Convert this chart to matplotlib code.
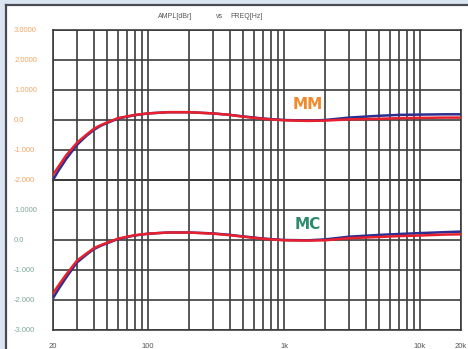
import matplotlib
matplotlib.use("Agg")
import matplotlib.pyplot as plt
from matplotlib.patches import Rectangle

plt.rcParams['font.family'] = ['Liberation Sans', 'DejaVu Sans']

# Frequency response readings (Hz, dBr)
freq = [20, 22, 25, 30, 35, 40, 45, 50, 60, 70, 80, 100, 140, 200, 300, 400, 500, 700,
        1000, 1500, 2000, 3000, 5000, 7000, 10000, 15000, 20000]

mm_left = [-2.00, -1.68, -1.30, -0.83, -0.54, -0.33, -0.19, -0.10, 0.05, 0.11, 0.16, 0.22,
           0.26, 0.26, 0.22, 0.17, 0.12, 0.05, 0.00, -0.02, 0.00, 0.08, 0.14, 0.17, 0.18,
           0.19, 0.19]
mm_right = [-1.83, -1.55, -1.18, -0.76, -0.50, -0.29, -0.17, -0.08, 0.06, 0.12, 0.17, 0.22,
            0.26, 0.26, 0.22, 0.17, 0.11, 0.04, -0.01, -0.03, -0.02, 0.02, 0.04, 0.06, 0.07,
            0.08, 0.08]
mc_left = [-1.94, -1.63, -1.25, -0.75, -0.50, -0.30, -0.19, -0.11, 0.03, 0.10, 0.15, 0.21,
           0.25, 0.25, 0.22, 0.17, 0.12, 0.05, 0.00, -0.01, 0.02, 0.11, 0.17, 0.20, 0.23,
           0.26, 0.28]
mc_right = [-1.78, -1.50, -1.15, -0.69, -0.46, -0.27, -0.17, -0.09, 0.04, 0.11, 0.16, 0.21,
            0.25, 0.25, 0.21, 0.16, 0.11, 0.04, -0.01, -0.02, -0.01, 0.06, 0.10, 0.13, 0.15,
            0.18, 0.19]

grid_freqs = [20, 30, 40, 50, 60, 70, 80, 90, 100, 200, 300, 400, 500, 600, 700, 800, 900,
              1000, 2000, 3000, 4000, 5000, 6000, 7000, 8000, 9000, 10000, 20000]
x_labels = {20: '20', 100: '100', 1000: '1k', 10000: '10k', 20000: '20k'}

mm_ticks = [-2, -1, 0, 1, 2, 3]
mm_tick_labels = ['-2.000', '-1.000', '0.0', '1.0000', '2.0000', '3.0000']
mc_ticks = [-3, -2, -1, 0, 1, 2]
mc_tick_labels = ['-3.000', '-2.000', '-1.000', '0.0', '1.0000', '']

W, H = 468, 349
fig = plt.figure(figsize=(W / 100, H / 100), dpi=100, facecolor='#dce6f3')

# white sheet with dark left/top border
fig.patches.append(Rectangle((6 / W, 0), 1.0, 1 - 5 / H, transform=fig.transFigure,
                             facecolor='white', edgecolor='none', zorder=-10))
fig.add_artist(plt.Line2D([6 / W, 6 / W], [0, 1 - 5 / H], transform=fig.transFigure,
                          color='#4a4a55', lw=1.6, zorder=-5))
fig.add_artist(plt.Line2D([6 / W, 1], [1 - 5 / H, 1 - 5 / H], transform=fig.transFigure,
                          color='#4a4a55', lw=1.6, zorder=-5))

left, right = 53 / W, 461 / W
top, mid, bottom = 1 - 30 / H, 1 - 180 / H, 1 - 330 / H

ax_mm = fig.add_axes([left, mid, right - left, top - mid])
ax_mc = fig.add_axes([left, bottom, right - left, mid - bottom])

grid_color = '#3c3c3c'
blue = '#2b2f8f'
red = '#e8202e'


def style(ax, ticks, labels, label_color, show_x):
    ax.set_facecolor('none')
    ax.set_xscale('log')
    ax.set_xlim(20, 20000)
    ax.set_ylim(ticks[0], ticks[-1])
    ax.set_xticks(grid_freqs)
    ax.xaxis.set_minor_locator(matplotlib.ticker.NullLocator())
    if show_x:
        ax.set_xticklabels([x_labels.get(f, '') for f in grid_freqs])
    else:
        ax.set_xticklabels([])
    ax.set_yticks(ticks)
    ax.set_yticklabels(labels)
    for lab in ax.get_yticklabels():
        lab.set_horizontalalignment('left')
        lab.set_color(label_color)
    ax.tick_params(axis='y', length=0, pad=28, labelsize=5.5)
    ax.tick_params(axis='x', length=0, pad=9, labelsize=5.5, labelcolor='#555555')
    ax.grid(True, which='major', color=grid_color, lw=1.2)
    for s in ax.spines.values():
        s.set_color(grid_color)
        s.set_linewidth(1.2)


style(ax_mm, mm_ticks, mm_tick_labels, '#f2a766', False)
style(ax_mc, mc_ticks, mc_tick_labels, '#7fa898', True)

ax_mm.plot(freq, mm_left, color=blue, lw=1.8, zorder=3)
ax_mm.plot(freq, mm_right, color=red, lw=1.8, zorder=4)
ax_mc.plot(freq, mc_left, color=blue, lw=1.8, zorder=3)
ax_mc.plot(freq, mc_right, color=red, lw=1.8, zorder=4)

ax_mm.text(1500, 0.53, 'MM', color='#f08a2c', fontsize=11, fontweight='bold',
           ha='center', va='center', family='DejaVu Sans')
ax_mc.text(1500, 0.53, 'MC', color='#2e8a6e', fontsize=11, fontweight='bold',
           ha='center', va='center', family='DejaVu Sans')

fig.text(175 / W, 1 - 16 / H, 'AMPL[dBr]', fontsize=5, color='#555555', ha='center', va='center')
fig.text(220 / W, 1 - 16 / H, 'vs', fontsize=5, color='#555555', ha='center', va='center')
fig.text(247 / W, 1 - 16 / H, 'FREQ[Hz]', fontsize=5, color='#555555', ha='center', va='center')

fig.savefig('out.png', dpi=100, facecolor=fig.get_facecolor())
